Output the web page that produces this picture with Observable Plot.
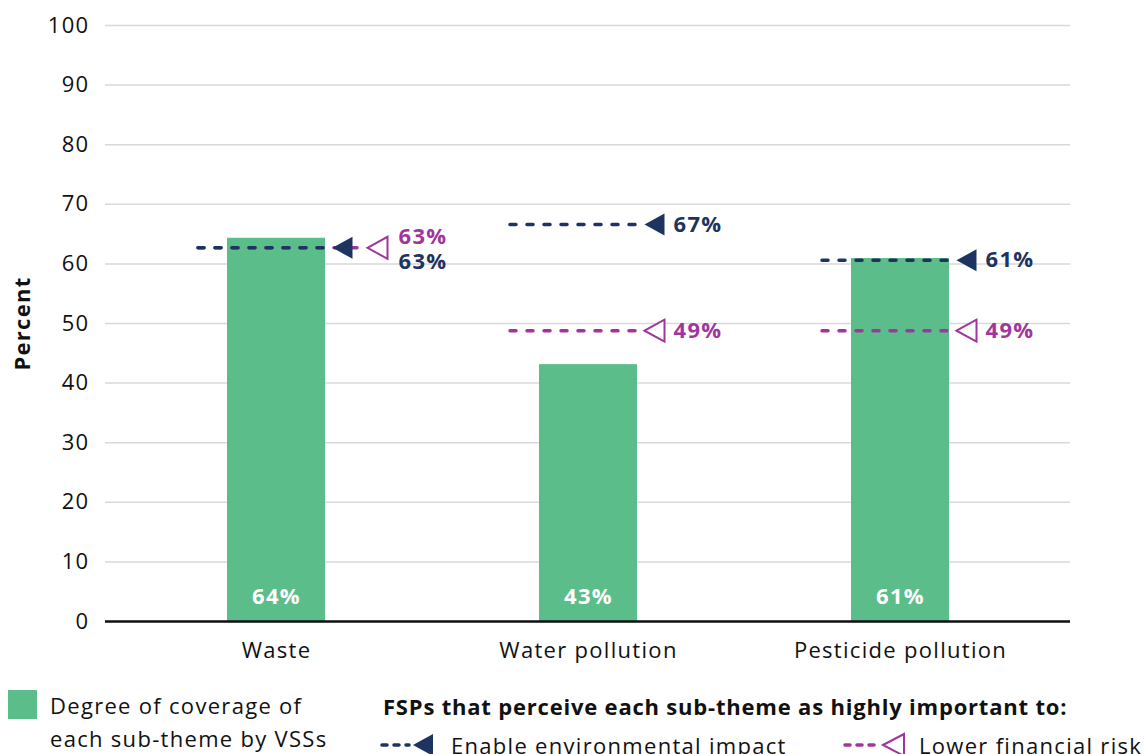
<!DOCTYPE html>
<html><head><meta charset="utf-8">
<script src="https://cdn.jsdelivr.net/npm/d3@7"></script>
<script src="https://cdn.jsdelivr.net/npm/@observablehq/plot@0.6"></script>
<style>
body{margin:0;background:#fff;font-family:"Open Sans",sans-serif;color:#111;}
#wrap{position:relative;width:1144px;height:754px;overflow:hidden;}
#legend{position:absolute;left:0;top:672px;width:1144px;height:82px;font-size:22px;letter-spacing:1.3px;}
.sw{position:absolute;left:8px;top:18px;width:29px;height:29px;}
.covtext{position:absolute;left:50px;top:17px;line-height:33px;}
.head{position:absolute;left:383px;top:19px;font-weight:700;line-height:30px;letter-spacing:0.8px;}
.item{position:absolute;top:58px;display:flex;align-items:center;line-height:30px;}
</style></head><body>
<div id="wrap"><div id="chart"></div><div id="legend"></div></div>
<script>
const categories = ["Waste", "Water pollution", "Pesticide pollution"];
const coverage = [64.3, 43.1, 60.9];
const environmentalImpact = [62.7, 66.6, 60.6];
const financialRisk = [62.7, 48.8, 48.8];
const yTicks = [0, 10, 20, 30, 40, 50, 60, 70, 80, 90, 100];
const coverageName = "Degree of coverage of each sub-theme by VSSs";
const legendHeading = "FSPs that perceive each sub-theme as highly important to:";
const seriesNames = ["Enable environmental impact", "Lower financial risk"];

const GREEN = "#5bbd8a", NAVY = "#1d3461", PURPLE = "#a0369b";
const fmt = v => Math.round(v) + "%";

const bars = categories.map((c, i) => ({category: c, value: coverage[i]}));
const same = i => Math.round(environmentalImpact[i]) === Math.round(financialRisk[i]);
const env = categories.map((c, i) => ({category: c, value: environmentalImpact[i], same: same(i)}));
const fin = categories.map((c, i) => ({category: c, value: financialRisk[i], same: same(i)}));

const leftTriangle = {
  draw(ctx, size) {
    const u = Math.sqrt(size / Math.PI);
    ctx.moveTo(-u, 0);
    ctx.lineTo(u, -1.1 * u);
    ctx.lineTo(u, 1.1 * u);
    ctx.closePath();
  }
};

const dash = {strokeWidth: 3.5, strokeDasharray: "6 11", strokeLinecap: "round", insetLeft: -29};
const lbl = {x: "category", y: "value", text: d => fmt(d.value), textAnchor: "start", fontWeight: 700, fontSize: 22};

const chart = Plot.plot({
  width: 1144,
  height: 672,
  marginTop: 25,
  marginBottom: 51,
  marginLeft: 105,
  marginRight: 74,
  style: {fontFamily: "'Open Sans', sans-serif", fontSize: "22px", color: "#111", background: "#fff", letterSpacing: "1.3px"},
  x: {domain: categories, paddingInner: 0.687, paddingOuter: 0.3435, insetLeft: 13.75, insetRight: 13.75},
  y: {domain: [0, 100]},
  marks: [
    Plot.ruleY(yTicks, {stroke: "#d9d9d9", strokeWidth: 1.5}),
    Plot.barY(bars, {x: "category", y: "value", fill: GREEN}),
    Plot.ruleY([0], {stroke: "#111", strokeWidth: 2.5}),
    Plot.text(bars, {x: "category", text: d => fmt(d.value), frameAnchor: "bottom", lineAnchor: "middle", dy: -25, fill: "#fff", fontWeight: 700, fontSize: 22}),
    Plot.axisY(yTicks, {tickSize: 0, tickPadding: 16, label: null}),
    Plot.axisX({tickSize: 0, tickPadding: 21, label: null}),
    Plot.text(["Percent"], {frameAnchor: "left", textAnchor: "middle", lineAnchor: "middle", dx: -83, rotate: -90, fontWeight: 700, fontSize: 22, fill: "#111"}),
    // financial risk lines (drawn beneath)
    Plot.tickY(fin, {filter: d => !d.same, x: "category", y: "value", stroke: PURPLE, ...dash, insetRight: -7}),
    Plot.tickY(fin, {filter: d => d.same, x: "category", y: "value", stroke: PURPLE, ...dash, insetRight: -33}),
    Plot.tickY(env, {x: "category", y: "value", stroke: NAVY, ...dash, insetRight: -7}),
    Plot.dot(fin, {filter: d => !d.same, x: "category", y: "value", symbol: leftTriangle, r: 10, dx: 66, fill: "#fff", stroke: PURPLE, strokeWidth: 2}),
    Plot.dot(fin, {filter: d => d.same, x: "category", y: "value", symbol: leftTriangle, r: 10, dx: 101, fill: "#fff", stroke: PURPLE, strokeWidth: 2}),
    Plot.dot(env, {x: "category", y: "value", symbol: leftTriangle, r: 10, dx: 66, fill: NAVY, stroke: "none"}),
    Plot.text(env, {...lbl, filter: d => !d.same, dx: 85, fill: NAVY}),
    Plot.text(fin, {...lbl, filter: d => !d.same, dx: 85, fill: PURPLE}),
    Plot.text(fin, {...lbl, filter: d => d.same, dx: 122, dy: -11, fill: PURPLE}),
    Plot.text(env, {...lbl, filter: d => d.same, dx: 122, dy: 14, fill: NAVY})
  ]
});
document.getElementById("chart").appendChild(chart);

function legendSymbol(color, filled) {
  if (filled) {
    return `<svg width="57" height="24" viewBox="0 0 57 24" style="margin-right:16px">
      <line x1="4" y1="12" x2="31" y2="12" stroke="${color}" stroke-width="3.5" stroke-linecap="round" stroke-dasharray="5 7"/>
      <path d="M35,12 L55,1 L55,23 Z" fill="${color}"/></svg>`;
  }
  return `<svg width="66" height="26" viewBox="0 0 66 26" style="margin-right:11px">
    <line x1="3" y1="13" x2="34" y2="13" stroke="${color}" stroke-width="3.5" stroke-linecap="round" stroke-dasharray="5 7"/>
    <path d="M41,13 L62,2 L62,24 Z" fill="#fff" stroke="${color}" stroke-width="2"/></svg>`;
}
const lg = document.getElementById("legend");
lg.innerHTML = `
  <div class="sw" style="background:${GREEN}"></div>
  <div class="covtext">${coverageName.replace("of each", "of<br>each")}</div>
  <div class="head">${legendHeading}</div>
  <div class="item" style="left:378px">${legendSymbol(NAVY, true)}<span>${seriesNames[0]}</span></div>
  <div class="item" style="left:842px">${legendSymbol(PURPLE, false)}<span>${seriesNames[1]}</span></div>`;
</script>
</body></html>
